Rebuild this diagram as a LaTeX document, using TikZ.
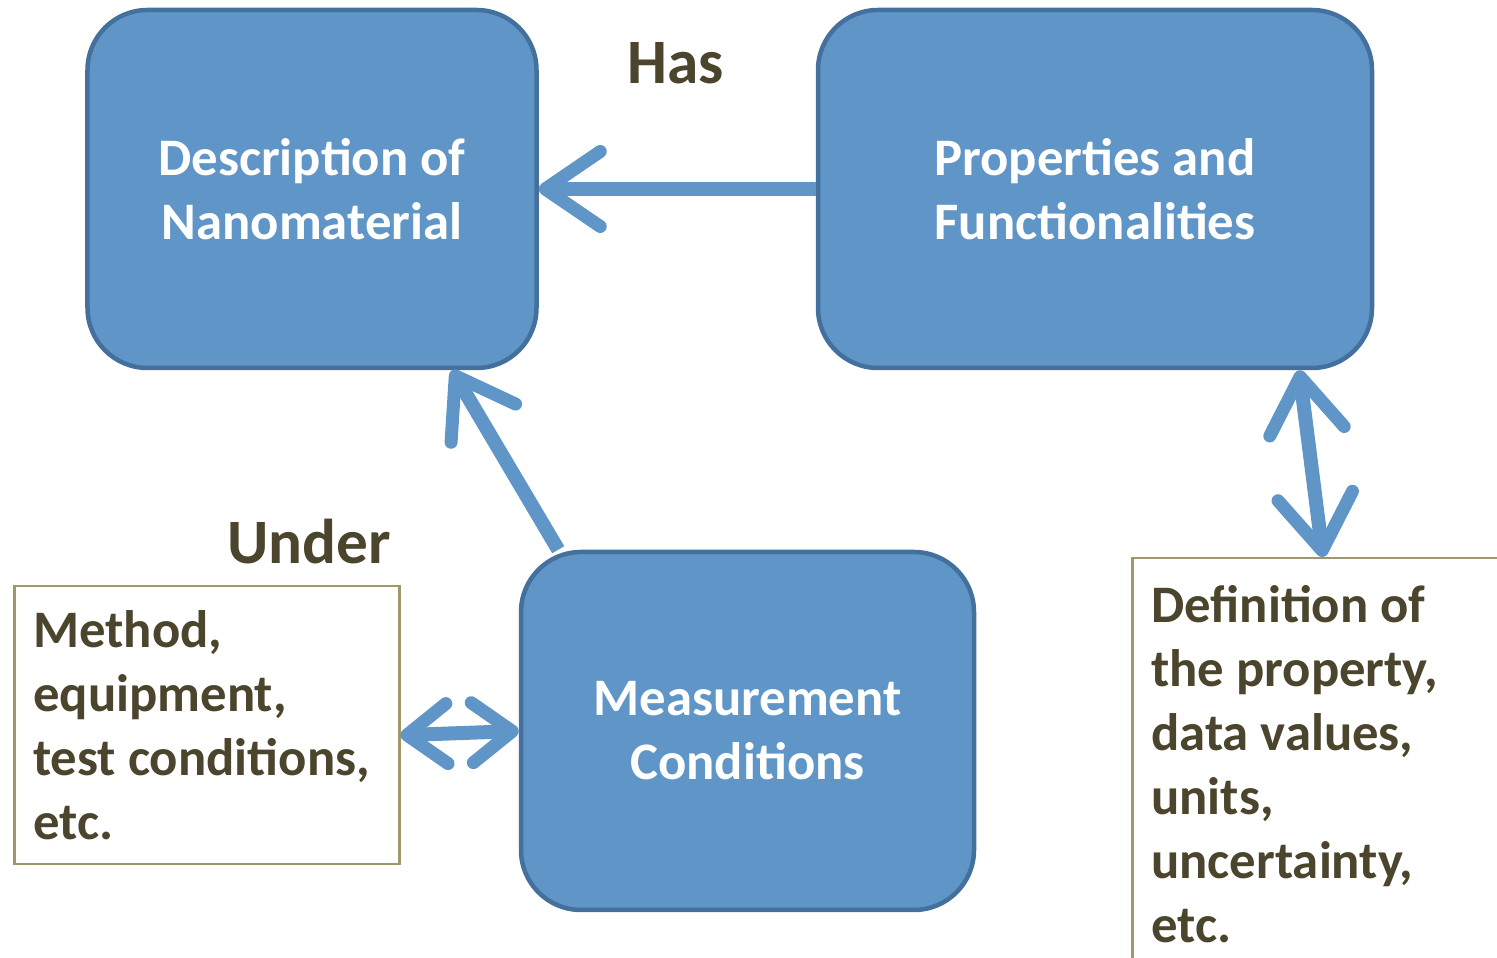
\documentclass[tikz,border=0pt]{standalone}
\usepackage{fontspec}
\setmainfont{Carlito}
\usepackage{xcolor}
\usepackage{tikz}
\usetikzlibrary{arrows.meta}
\definecolor{boxblue}{RGB}{96,149,199}
\definecolor{boxedge}{RGB}{67,112,157}
\definecolor{notebrd}{RGB}{160,152,104}
\definecolor{notetxt}{RGB}{74,69,44}

\begin{document}
\begin{tikzpicture}[
  box/.style={rectangle, draw=boxedge, line width=0.45mm, rounded corners=0.6cm, fill=boxblue, minimum height=3.58cm, text=white, align=center, font=\fontsize{15}{18.2}\selectfont\bfseries},
  note/.style={rectangle, draw=notebrd, line width=0.25mm, anchor=north west, align=flush left, text=notetxt, inner xsep=0.19cm, inner ysep=0.2cm, font=\fontsize{15}{18.2}\selectfont\bfseries},
  lbl/.style={text=notetxt, font=\fontsize{18}{20}\selectfont\bfseries},
  barb/.tip={Straight Barb[length=0.55cm, width=0.75cm, round, line width=1.3mm]},
  smallbarb/.tip={Straight Barb[length=0.4cm, width=0.6cm, round, line width=1.3mm]},
  arrow/.style={-barb, line width=1.4mm, boxblue},
  biarrow/.style={barb-barb, line width=1.4mm, boxblue},
  shortbiarrow/.style={smallbarb-smallbarb, line width=1.4mm, boxblue}
]
\clip (0,0) rectangle (14.97,9.58);
\node[box, minimum width=4.49cm] (desc) at (3.12,7.69) {Description of\\Nanomaterial};
\node[box, minimum width=5.54cm] (props) at (10.95,7.69) {Properties and\\Functionalities};
\node[box, minimum width=4.53cm] (meas) at (7.475,2.27) {Measurement\\Conditions};
\node[note, text width=3.47cm, minimum height=2.78cm] (method) at (0.13,3.73) {Method,\\equipment,\\test conditions,\\etc.};
\node[note, text width=4cm, inner ysep=0.27cm] (defn) at (11.31,4.01) {Definition of\\the property,\\data values,\\units,\\uncertainty,\\etc.};
\node[lbl] (has) at (6.76,8.95) {Has};
\node[lbl] (under) at (3.09,4.16) {Under};

\draw[arrow] (props.west) -- (desc.east);
\draw[arrow] ([xshift=3.95mm]meas.north west) -- ([xshift=14mm]desc.south);
\draw[biarrow] ([xshift=-7.5mm]props.south east) -- ([xshift=19.2mm]defn.north west);
\draw[shortbiarrow] ([yshift=-1mm]method.east) -- (meas.west);
\end{tikzpicture}
\end{document}
